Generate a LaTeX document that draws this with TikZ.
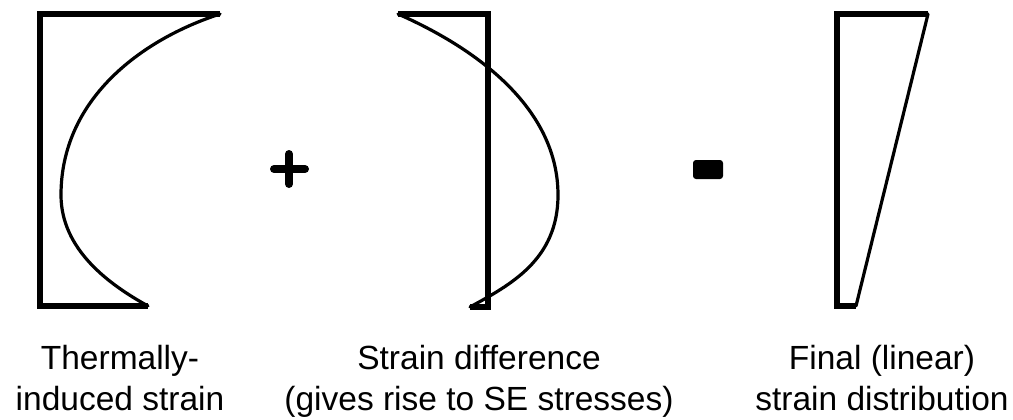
\documentclass[tikz,border=0pt]{standalone}
\usepackage{fontspec}
\setmainfont{Liberation Sans}

\begin{document}
\begin{tikzpicture}[
    x=0.5pt, y=-0.5pt,
    frame/.style={draw, line width=2.7pt, line join=miter},
    profile/.style={draw, line width=1.6pt, line cap=round},
    sign/.style={draw, line width=4pt, line cap=round},
    caption/.style={align=center, inner sep=0pt, anchor=base, font=\fontsize{16.75}{20.5}\selectfont}
  ]
    \useasboundingbox (0,0) rectangle (1013,419);
    % thermally-induced strain
    \draw[frame] (220,14) -- (40,14) -- (40,306) -- (148,306);
    \draw[profile] (220,14) .. controls (140,40) and (61,100) .. (61,195)
                            .. controls (61,250) and (110,285) .. (148,306);
    % plus
    \draw[sign] (274,169) -- (305,169) (289,154) -- (289,184);
    % strain difference
    \draw[frame] (398,14) -- (488,14) -- (488,307) -- (470,307);
    \draw[profile] (398,14) .. controls (480,50) and (558,110) .. (558,195)
                            .. controls (558,260) and (510,285) .. (470,307);
    % equals
    \fill[rounded corners=1.5pt] (693,160) rectangle (723,179);
    % final distribution
    \draw[frame] (928,14) -- (837,14) -- (837,306) -- (856,306);
    \draw[profile] (856,306) -- (928,14);
    % captions (base = last line)
    \node[caption] (thermal) at (120,410) {Thermally-\\induced strain};
    \node[caption] (difference) at (479,410) {Strain difference\\(gives rise to SE stresses)};
    \node[caption] (final) at (882,410) {Final (linear)\\strain distribution};
\end{tikzpicture}
\end{document}
